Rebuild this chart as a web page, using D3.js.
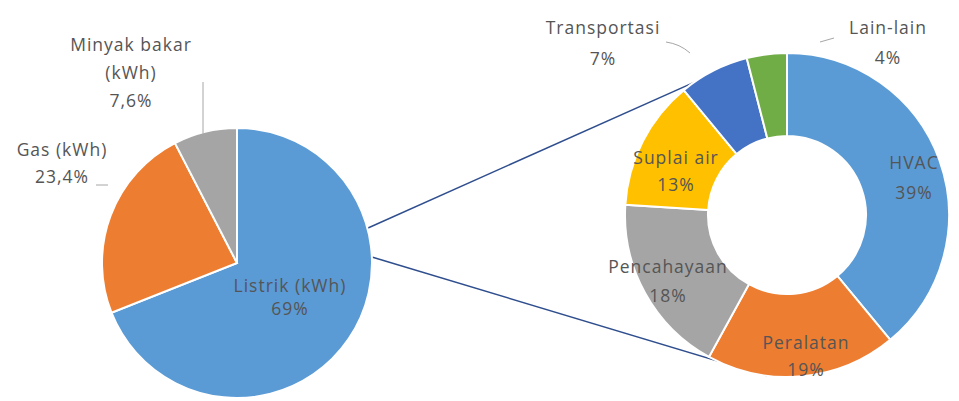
<!DOCTYPE html>
<html><head><meta charset="utf-8">
<script src="https://cdn.jsdelivr.net/npm/d3@7"></script>
<style>body{margin:0;background:#fff}svg{display:block}text{font-family:"Open Sans",sans-serif;font-size:17.5px;letter-spacing:1px;fill:#555}</style>
</head><body><svg id="c" width="959" height="401"></svg>
<script>
const pieCats = ["Listrik (kWh)", "Gas (kWh)", "Minyak bakar (kWh)"];
const pieVals = [69, 23.4, 7.6];
const pieLabels = ["69%", "23,4%", "7,6%"];
const pieColors = ["#5B9BD5", "#ED7D31", "#A5A5A5"];

const donutCats = ["HVAC", "Peralatan", "Pencahayaan", "Suplai air", "Transportasi", "Lain-lain"];
const donutVals = [39, 19, 18, 13, 7, 4];
const donutLabels = ["39%", "19%", "18%", "13%", "7%", "4%"];
const donutColors = ["#5B9BD5", "#ED7D31", "#A5A5A5", "#FFC000", "#4472C4", "#70AD47"];

const svg = d3.select("#c");
const L = {cx: 237, cy: 263, r: 135};
const D = {cx: 787, cy: 215, r: 162, ir: 79};

const pie = d3.pie().sort(null).value(d => d);
const pArcs = pie(pieVals);
const dArcs = pie(donutVals);

const pt = (c, r, a) => [c.cx + r * Math.sin(a), c.cy - r * Math.cos(a)];

// connector lines (drawn under the donut)
const trAngle = dArcs[4].startAngle;
const p1 = pt(L, L.r, Math.PI * 0.417), p2 = pt(D, D.r, trAngle + 0.08);
const p3 = pt(L, L.r, Math.PI * 0.486), p4 = pt(D, D.r, Math.PI * 1.04);
svg.append("line").attr("x1", p1[0]).attr("y1", p1[1]).attr("x2", p2[0]).attr("y2", p2[1])
  .attr("stroke", "#2F4E8E").attr("stroke-width", 1.5);
svg.append("line").attr("x1", p3[0]).attr("y1", p3[1]).attr("x2", p4[0]).attr("y2", p4[1])
  .attr("stroke", "#2F4E8E").attr("stroke-width", 1.5);

// left pie
const arcL = d3.arc().innerRadius(0).outerRadius(L.r);
svg.append("g").attr("transform", `translate(${L.cx},${L.cy})`)
  .selectAll("path").data(pArcs).join("path")
  .attr("d", arcL).attr("fill", (d, i) => pieColors[i]).attr("stroke", "#fff").attr("stroke-width", 2);

// donut
const arcD = d3.arc().innerRadius(D.ir).outerRadius(D.r);
svg.append("g").attr("transform", `translate(${D.cx},${D.cy})`)
  .selectAll("path").data(dArcs).join("path")
  .attr("d", arcD).attr("fill", (d, i) => donutColors[i]).attr("stroke", "#fff").attr("stroke-width", 2);

// labels
function label(lines, x, y, dy) {
  const t = svg.append("text").attr("text-anchor", "middle").attr("x", x).attr("y", y);
  lines.forEach((s, i) => t.append("tspan").attr("x", x).attr("dy", i ? dy : 0).text(s));
  return t;
}
label(["Minyak bakar", "(kWh)", pieLabels[2]], 131, 51, 28);
label(["Gas (kWh)", pieLabels[1]], 62, 156, 27);
label(["Listrik (kWh)", pieLabels[0]], 290, 292, 23);

label(["Transportasi", donutLabels[4]], 603, 34, 31);
label(["Lain-lain", donutLabels[5]], 888, 34, 30);
label([donutCats[0], donutLabels[0]], 914, 169, 30);
label([donutCats[1], donutLabels[1]], 806, 349, 27);
label([donutCats[2], donutLabels[2]], 668, 273, 29);
label([donutCats[3], donutLabels[3]], 676, 164, 27);

// leader lines
const lead = "#A6A6A6";
const gm = pt(L, L.r, (pArcs[2].startAngle + pArcs[2].endAngle) / 2);
svg.append("path").attr("d", `M203,82 L203,${gm[1] + 2}`).attr("stroke", lead).attr("fill", "none");
svg.append("path").attr("d", `M96,185 L108,185`).attr("stroke", lead).attr("fill", "none");
svg.append("path").attr("d", `M666,42 Q680,44 690,53`).attr("stroke", lead).attr("fill", "none");
svg.append("path").attr("d", `M820,42 L834,38`).attr("stroke", lead).attr("fill", "none");
</script></body></html>
